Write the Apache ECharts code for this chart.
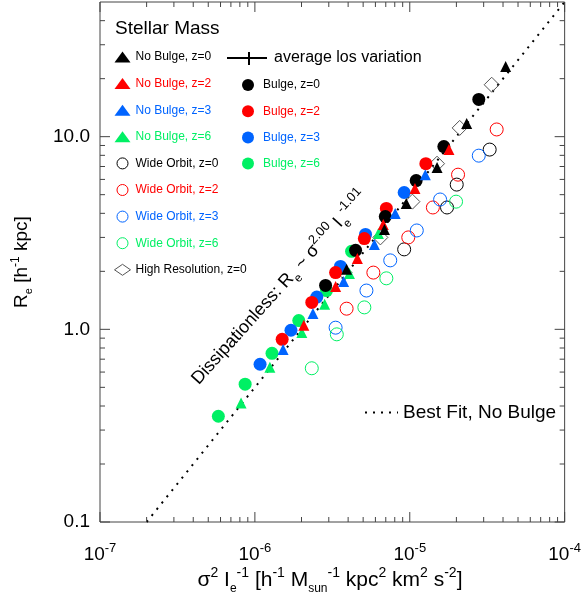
<!DOCTYPE html>
<html><head><meta charset="utf-8">
<script src="https://cdn.jsdelivr.net/npm/echarts@6/dist/echarts.min.js"></script>
<style>html,body{margin:0;padding:0;background:#fff}#c{width:584px;height:609px}</style>
</head><body><div id="c"></div>
<script>
const FONT = 'Liberation Sans';
const BLACK = '#000000', RED = '#ff0000', BLUE = '#0064ff', GREEN = '#00f064', GRAY = '#555555';

// ---- data: [sigma^2 I_e^-1, R_e] ----
const noBulgeZ0 = [[4.16e-5,23.1],[2.33e-5,11.7],[1.50e-5,6.91],[9.49e-6,4.50],[6.86e-6,3.30],[3.91e-6,2.05]];
const noBulgeZ2 = [[1.79e-5,8.57],[1.08e-5,5.38],[6.74e-6,3.50],[4.59e-6,2.33],[3.32e-6,1.67],[2.07e-6,1.05]];
const noBulgeZ3 = [[1.26e-5,6.35],[8.05e-6,3.99],[5.91e-6,2.76],[3.74e-6,1.77],[2.37e-6,1.21],[1.52e-6,0.787]];
const noBulgeZ6 = [[6.27e-6,3.14],[4.08e-6,1.95],[2.82e-6,1.35],[2.01e-6,0.964],[1.25e-6,0.635],[8.14e-7,0.414]];
const wideZ0 = [[3.28e-5,8.57],[2.01e-5,5.64],[1.74e-5,4.29],[9.20e-6,2.60]];
const wideZ2 = [[3.64e-5,10.9],[2.05e-5,6.35],[1.41e-5,4.29],[9.78e-6,3.00],[5.82e-6,1.97],[3.91e-6,1.28]];
const wideZ3 = [[2.79e-5,7.97],[1.57e-5,4.72],[1.11e-5,3.26],[7.48e-6,2.28],[5.25e-6,1.59],[3.32e-6,1.02]];
const wideZ6 = [[1.99e-5,4.60],[7.06e-6,1.84],[5.09e-6,1.30],[3.38e-6,0.942],[2.33e-6,0.628]];
const bulgeZ0 = [[2.79e-5,15.6],[1.66e-5,8.88],[1.10e-5,5.92],[6.95e-6,3.85],[4.47e-6,2.57],[2.86e-6,1.69]];
const bulgeZ2 = [[1.27e-5,7.24],[7.06e-6,4.24],[5.09e-6,2.96],[3.32e-6,1.97],[2.33e-6,1.38],[1.50e-6,0.887]];
const bulgeZ3 = [[9.20e-6,5.13],[5.18e-6,3.11],[3.57e-6,2.12],[2.51e-6,1.47],[1.71e-6,0.989],[1.08e-6,0.659]];
const bulgeZ6 = [[4.21e-6,2.54],[2.90e-6,1.59],[1.92e-6,1.11],[1.29e-6,0.751],[8.65e-7,0.519],[5.81e-7,0.354]];
const highResZ0 = [[3.38e-5,18.6],[2.10e-5,11.1],[1.50e-5,7.24],[1.04e-5,4.60],[6.46e-6,3.00],[3.79e-6,1.97]];
const fitLine = [[2e-7,0.1],[1e-4,50]];

// ---- axes ----
const xMin = 1e-7, xMax = 1e-4, yMin = 0.1, yMax = 50;
const xMajor = [1e-7,1e-6,1e-5,1e-4];
const xMajorExp = ['-7','-6','-5','-4'];
const yMajor = [0.1,1,10];
const yMajorLabels = ['0.1','1.0','10.0'];

function minorList(lo, hi) {
  const out = [];
  for (let e = Math.floor(Math.log10(lo)); e <= Math.ceil(Math.log10(hi)); e++) {
    for (let m = 2; m <= 9; m++) { const v = m * Math.pow(10, e); if (v > lo * 1.0001 && v < hi * 0.9999) out.push(v); }
  }
  return out;
}
const xTickData = xMajor.map(v => [v, 1, 1]).concat(minorList(xMin, xMax).map(v => [v, 1, 0]));
const yTickData = yMajor.map(v => [1e-6, v, 1]).concat(minorList(yMin, yMax).map(v => [1e-6, v, 0]));

function matchIdx(arr, v) { for (let i = 0; i < arr.length; i++) if (Math.abs(Math.log10(arr[i]) - Math.log10(v)) < 1e-6) return i; return -1; }

const TICK = '#444';
function tickRender(isX) {
  return function (params, api) {
    const cs = params.coordSys;
    const major = api.value(2) === 1;
    const len = major ? 10 : 5;
    const p = api.coord([api.value(0), api.value(1)]);
    const st = { stroke: TICK, lineWidth: 1 };
    if (isX) {
      const yb = cs.y + cs.height, yt = cs.y;
      return { type: 'group', children: [
        { type: 'line', shape: { x1: p[0], y1: yb, x2: p[0], y2: yb - len }, style: st },
        { type: 'line', shape: { x1: p[0], y1: yt, x2: p[0], y2: yt + len }, style: st }
      ]};
    } else {
      const xl = cs.x, xr = cs.x + cs.width;
      return { type: 'group', children: [
        { type: 'line', shape: { x1: xl, y1: p[1], x2: xl + len, y2: p[1] }, style: st },
        { type: 'line', shape: { x1: xr, y1: p[1], x2: xr - len, y2: p[1] }, style: st }
      ]};
    }
  };
}

function sc(name, data, symbol, size, color, hollow, z) {
  return {
    type: 'scatter', name, data, symbol, symbolSize: size, z: z,
    itemStyle: hollow ? { color: 'rgba(0,0,0,0)', borderColor: color, borderWidth: 1, opacity: 1 } : { color: color, opacity: 1 },
    emphasis: { disabled: true }, silent: true
  };
}

const supS = { fontSize: 12, fontFamily: FONT, color: '#000', padding: [0, 0, 13, 0] };
const subS = { fontSize: 11, fontFamily: FONT, color: '#000', padding: [14, 0, 0, 0] };
const supD = { fontSize: 13, fontFamily: FONT, color: '#000', padding: [0, 0, 14, 0] };
const subD = { fontSize: 12, fontFamily: FONT, color: '#000', padding: [15, 0, 0, 0] };
const supX = { fontSize: 14, fontFamily: FONT, color: '#000', padding: [0, 0, 14, 0] };
const subX = { fontSize: 12, fontFamily: FONT, color: '#000', padding: [17, 0, 0, 0] };

const chart = echarts.init(document.getElementById('c'), null, { renderer: 'canvas' });
chart.setOption({
  animation: false,
  backgroundColor: '#fff',
  grid: { left: 100, right: 17, top: 2, bottom: 87, show: true, borderColor: TICK, borderWidth: 1, backgroundColor: 'transparent' },
  xAxis: {
    type: 'log', logBase: 10, min: xMin, max: xMax,
    axisLine: { show: false }, axisTick: { show: false }, splitLine: { show: false },
    axisLabel: {
      margin: 20, color: '#000', fontFamily: FONT, fontSize: 19,
      formatter: v => { const i = matchIdx(xMajor, v); return i < 0 ? '' : '10{s|' + xMajorExp[i] + '}'; },
      rich: { s: { fontSize: 13, fontFamily: FONT, color: '#000', padding: [0, 0, 12, 0] } }
    }
  },
  yAxis: {
    type: 'log', logBase: 10, min: yMin, max: yMax,
    axisLine: { show: false }, axisTick: { show: false }, splitLine: { show: false },
    axisLabel: {
      margin: 10, color: '#000', fontFamily: FONT, fontSize: 19,
      formatter: v => { const i = matchIdx(yMajor, v); return i < 0 ? '' : yMajorLabels[i]; }
    }
  },
  legend: [
    {
      left: 114, top: 51, padding: 0, orient: 'vertical', itemWidth: 16, itemHeight: 11, itemGap: 14.6, selectedMode: false,
      itemStyle: { borderWidth: 1 },
      textStyle: { fontFamily: FONT, fontSize: 12 },
      data: [
        { name: 'No Bulge, z=0', icon: 'triangle', textStyle: { color: BLACK } },
        { name: 'No Bulge, z=2', icon: 'triangle', textStyle: { color: RED } },
        { name: 'No Bulge, z=3', icon: 'triangle', textStyle: { color: BLUE } },
        { name: 'No Bulge, z=6', icon: 'triangle', textStyle: { color: GREEN } },
        { name: 'Wide Orbit, z=0', icon: 'circle', textStyle: { color: BLACK } },
        { name: 'Wide Orbit, z=2', icon: 'circle', textStyle: { color: RED } },
        { name: 'Wide Orbit, z=3', icon: 'circle', textStyle: { color: BLUE } },
        { name: 'Wide Orbit, z=6', icon: 'circle', textStyle: { color: GREEN } },
        { name: 'High Resolution, z=0', icon: 'diamond', textStyle: { color: BLACK } }
      ]
    },
    {
      left: 242, top: 79, padding: 0, orient: 'vertical', itemWidth: 20, itemHeight: 12, itemGap: 14.2, selectedMode: false,
      textStyle: { fontFamily: FONT, fontSize: 12 },
      data: [
        { name: 'Bulge, z=0', icon: 'circle', textStyle: { color: BLACK } },
        { name: 'Bulge, z=2', icon: 'circle', textStyle: { color: RED } },
        { name: 'Bulge, z=3', icon: 'circle', textStyle: { color: BLUE } },
        { name: 'Bulge, z=6', icon: 'circle', textStyle: { color: GREEN } }
      ]
    },
    {
      left: 364, top: 403, padding: 0, itemWidth: 33, itemHeight: 12, selectedMode: false,
      itemStyle: { opacity: 0 },
      textStyle: { fontFamily: FONT, fontSize: 19, color: '#000' },
      data: [{ name: 'Best Fit, No Bulge' }]
    }
  ],
  graphic: [
    { type: 'text', left: 115, top: 19, style: { text: 'Stellar Mass', fontFamily: FONT, fontSize: 19, fill: '#000' } },
    { type: 'line', shape: { x1: 227, y1: 58, x2: 267, y2: 58 }, style: { stroke: '#000', lineWidth: 2 } },
    { type: 'line', shape: { x1: 249, y1: 52, x2: 249, y2: 65 }, style: { stroke: '#000', lineWidth: 2 } },
    { type: 'text', x: 274, y: 58, style: { text: 'average los variation', fontFamily: FONT, fontSize: 16, fill: '#000', textVerticalAlign: 'middle' } },
    { type: 'text', x: 195, y: 382, rotation: 48 * Math.PI / 180,
      style: { text: 'Dissipationless: R{sub|e} ~ σ{sup|2.00} I{sub|e}{sup|-1.01}', fontFamily: FONT, fontSize: 18, fill: '#000',
        textAlign: 'left', textVerticalAlign: 'middle', rich: { sub: subD, sup: supD } } },
    { type: 'text', x: 330, y: 580,
      style: { text: 'σ{sup|2} I{sub|e}{sup|-1} [h{sup|-1} M{sub|sun}{sup|-1} kpc{sup|2} km{sup|2} s{sup|-2}]', fontFamily: FONT, fontSize: 21, fill: '#000',
        textAlign: 'center', textVerticalAlign: 'middle', rich: { sub: subX, sup: supX } } },
    { type: 'text', x: 22, y: 262, rotation: Math.PI / 2,
      style: { text: 'R{sub|e} [h{sup|-1} kpc]', fontFamily: FONT, fontSize: 19, fill: '#000',
        textAlign: 'center', textVerticalAlign: 'middle', rich: { sub: subS, sup: supS } } }
  ],
  series: [
    { type: 'custom', name: 'xticks', data: xTickData, renderItem: tickRender(true), encode: { x: 0, y: 1 }, silent: true, z: 5 },
    { type: 'custom', name: 'yticks', data: yTickData, renderItem: tickRender(false), encode: { x: 0, y: 1 }, silent: true, z: 5 },
    { type: 'line', name: 'Best Fit, No Bulge', data: fitLine, symbol: 'none', showSymbol: false, z: 1, silent: true,
      lineStyle: { color: '#000', width: 2, type: [2, 6] }, itemStyle: { color: '#000' } },
    sc('Wide Orbit, z=0', wideZ0, 'circle', 13, BLACK, true, 2),
    sc('Wide Orbit, z=2', wideZ2, 'circle', 13, RED, true, 2),
    sc('Wide Orbit, z=3', wideZ3, 'circle', 13, BLUE, true, 2),
    sc('Wide Orbit, z=6', wideZ6, 'circle', 13, GREEN, true, 2),
    sc('High Resolution, z=0', highResZ0, 'diamond', 15, GRAY, true, 2),
    sc('Bulge, z=6', bulgeZ6, 'circle', 13, GREEN, false, 3),
    sc('Bulge, z=3', bulgeZ3, 'circle', 13, BLUE, false, 3),
    sc('Bulge, z=2', bulgeZ2, 'circle', 13, RED, false, 3),
    sc('Bulge, z=0', bulgeZ0, 'circle', 13, BLACK, false, 3),
    sc('No Bulge, z=6', noBulgeZ6, 'triangle', 11, GREEN, false, 4),
    sc('No Bulge, z=3', noBulgeZ3, 'triangle', 11, BLUE, false, 4),
    sc('No Bulge, z=2', noBulgeZ2, 'triangle', 11, RED, false, 4),
    sc('No Bulge, z=0', noBulgeZ0, 'triangle', 11, BLACK, false, 4)
  ]
});
</script></body></html>
